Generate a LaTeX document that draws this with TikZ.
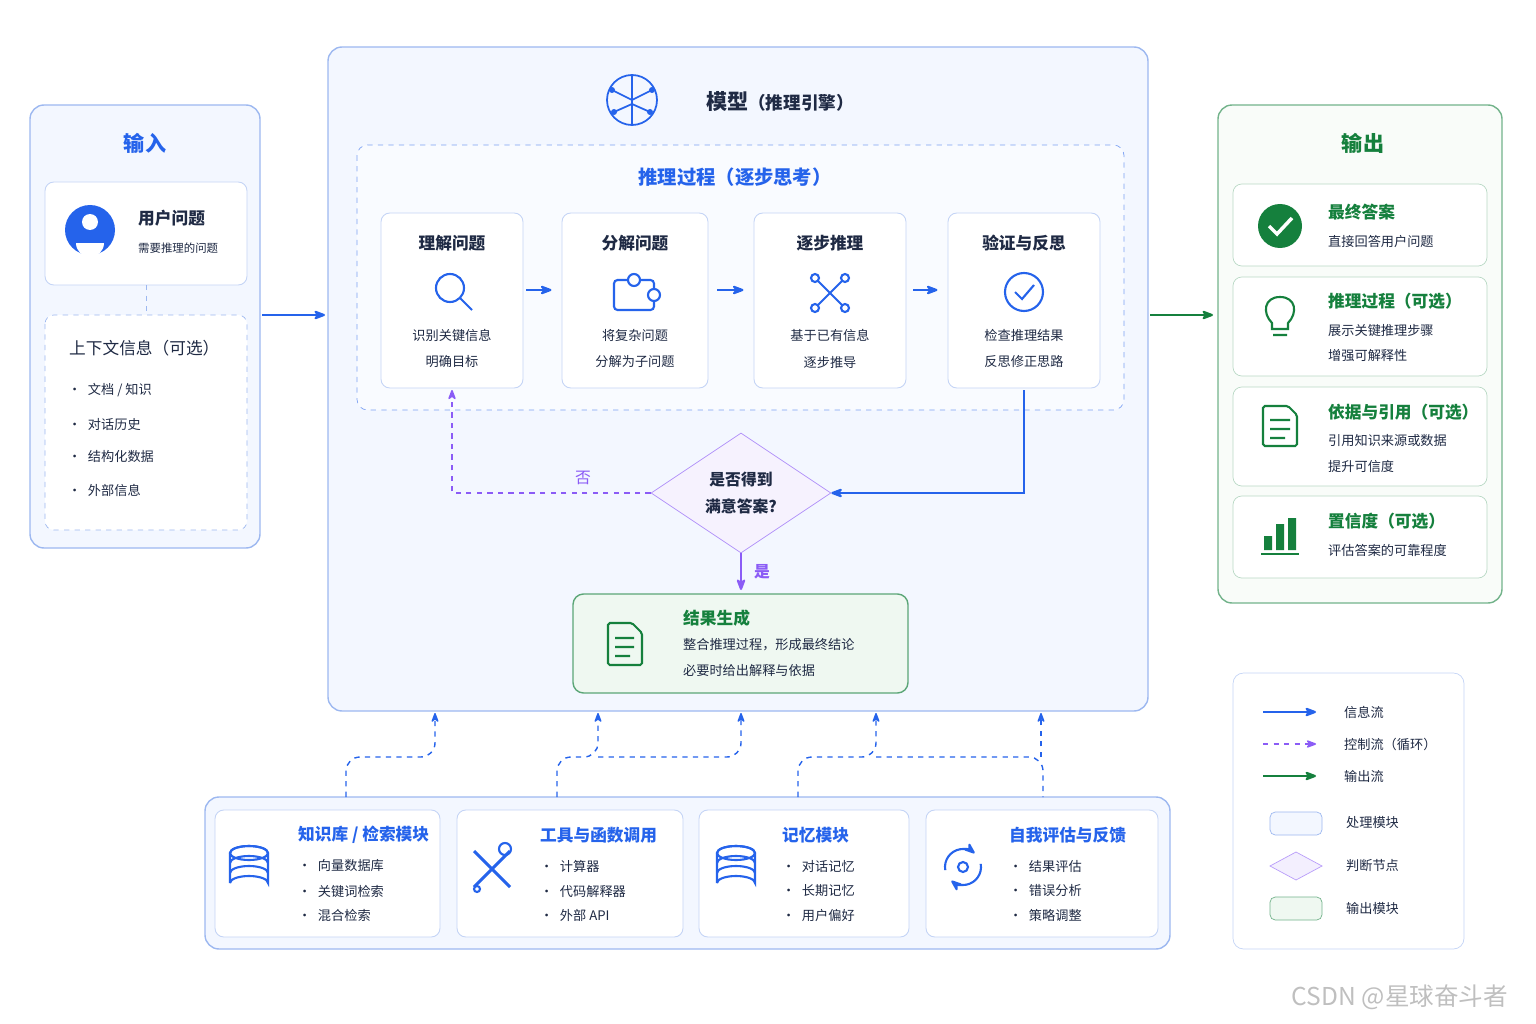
\documentclass[tikz,border=0pt]{standalone}
\usepackage{fontspec}
\setmainfont{Noto Sans CJK SC}
\usetikzlibrary{arrows.meta,shapes.geometric}
\definecolor{blu}{HTML}{2563EB}
\definecolor{navy}{HTML}{1F2A44}
\definecolor{grn}{HTML}{15803D}
\definecolor{pur}{HTML}{8B5CF6}
\definecolor{lbl}{HTML}{F3F7FF}
\definecolor{edg}{HTML}{9DB8F0}
\definecolor{lgr}{HTML}{EFF8F1}
\begin{document}
\begin{tikzpicture}
        [x=0.02cm,y=-0.02cm,>={Stealth[round]},
         panel/.style={draw=edg,rounded corners=8pt,fill=lbl,line width=0.8pt},
         card/.style={draw=edg!60,rounded corners=5pt,fill=white,line width=0.5pt},
         ttl/.style={font=\fontsize{12}{14}\selectfont\bfseries,text=blu},
         hd/.style={font=\fontsize{9.5}{11}\selectfont\bfseries,text=navy},
         tx/.style={font=\fontsize{7.5}{9}\selectfont,text=navy},
         flow/.style={->,blu,line width=1.2pt},
         ctrl/.style={->,pur,dashed,line width=0.9pt},
         sup/.style={->,blu,dashed,line width=0.8pt},
         ico/.style={blu,line width=1.2pt}]
      \useasboundingbox (0,0) rectangle (1536,1024);
      % input
      \draw[panel] (30,105) rectangle (260,548);
      \node[ttl] (inT) at (145,143) {输入};
      \draw[card] (45,182) rectangle (247,285);
      \fill[blu] (90,230) circle (25);
      \fill[white] (90,222) circle (8);
      \fill[white] (76,243) arc (180:0:14) -- cycle;
      \node[hd,anchor=west] (uq) at (132,218) {用户问题};
      \node[tx,anchor=west] (uqs) at (132,248) {\fontsize{6.5}{8}\selectfont 需要推理的问题};
      \draw[edg,dashed] (146,285) -- (146,315);
      \draw[edg,dashed,rounded corners=5pt,fill=white] (45,315) rectangle (247,530);
      \node[font=\fontsize{9.5}{11}\selectfont,text=navy,anchor=west] (ctx) at (63,348) {上下文信息（可选）};
      \foreach \y/\t in {390/{文档 / 知识},424/对话历史,457/结构化数据,490/外部信息}
        \node[tx,anchor=west] at (62,\y) {•\enspace\t};
      \coordinate (inR) at (262,315);
      \coordinate (mdL) at (325,315);
      \draw[flow] (inR) -- (mdL);
      % model
      \draw[panel] (328,47) rectangle (1148,711);
      \begin{scope}[ico,line width=1pt]
        \draw (632,100) circle (25);
        \draw (632,76) -- (632,124) (612,90) -- (632,100) -- (652,90) (614,112) -- (632,104) -- (650,112);
        \foreach \p in {(612,90),(652,90),(614,112),(650,112)} \fill[blu] \p circle (3);
      \end{scope}
      \node[font=\fontsize{12}{14}\selectfont\bfseries,text=navy] (mT) at (780,101) {模型\fontsize{10}{12}\selectfont（推理引擎）};
      \draw[blu!60,dashed,rounded corners=6pt,fill=white!50!lbl] (357,145) rectangle (1124,410);
      \node[ttl,font=\fontsize{11}{13}\selectfont\bfseries] (rT) at (735,177) {推理过程（逐步思考）};
      \foreach \n/\a/\b/\t/\l/\m in {s1/381/523/理解问题/识别关键信息/明确目标,
          s2/562/708/分解问题/将复杂问题/分解为子问题,
          s3/754/906/逐步推理/基于已有信息/逐步推导,
          s4/948/1100/验证与反思/检查推理结果/反思修正思路} {
        \draw[card] (\a,213) rectangle (\b,388);
        \node[hd] (\n) at ({(\a+\b)/2},243) {\t};
        \node[tx] at ({(\a+\b)/2},335) {\l};
        \node[tx] at ({(\a+\b)/2},362) {\m};
        \coordinate (\n L) at (\a,290);
        \coordinate (\n R) at (\b,290);
        \coordinate (\n B) at ({(\a+\b)/2},390);
      }
      % step icons
      \draw[ico] (450,288) circle (14) (460,298) -- (472,310);
      \draw[ico,rounded corners=2pt] (614,280) rectangle (654,310);
      \draw[ico,fill=white] (634,280) circle (6) (654,295) circle (6);
      \foreach \p in {(815,278),(845,278),(815,308),(845,308)} \draw[ico] \p circle (4);
      \draw[ico] (818,281) -- (842,305) (842,281) -- (818,305);
      \draw[ico] (1024,292) circle (19);
      \draw[ico] (1015,292) -- (1022,299) -- (1034,285);
      \draw[flow] (s1R) ++(3,0) -- ([xshift=-6]s2L);
      \draw[flow] (s2R) ++(9,0) -- ([xshift=-6]s3L);
      \draw[flow] (s3R) ++(7,0) -- ([xshift=-6]s4L);
      % decision
      \node[diamond,draw=pur!70,fill=pur!8,minimum width=180*0.02cm,minimum height=120*0.02cm,inner sep=0,
            aspect=1.5,font=\fontsize{9}{15}\selectfont\bfseries,text=navy,align=center] (dec) at (741,493) {是否得到\\满意答案?};
      \draw[flow] (s4B) |- (dec.east);
      \draw[ctrl] (dec.west) -| (s1B);
      \node[font=\fontsize{9}{11}\selectfont,text=pur] (no) at (583,478) {否};
      \draw[->,pur,line width=1.2pt] (dec.south) -- (741,590);
      \node[font=\fontsize{9}{11}\selectfont\bfseries,text=pur] (yes) at (762,572) {是};
      % result
      \draw[draw=grn!70,fill=lgr,rounded corners=6pt,line width=0.8pt] (573,594) rectangle (908,693);
      \draw[grn,line width=1.2pt,rounded corners=1pt] (608,623) -- (632,623) -- (642,633) -- (642,665) -- (608,665) -- cycle
        (615,638) -- (634,638) (615,647) -- (634,647) (615,656) -- (630,656);
      \node[font=\fontsize{9.5}{11}\selectfont\bfseries,text=grn,anchor=west] (res) at (677,618) {结果生成};
      \node[tx,anchor=west] at (677,645) {整合推理过程，形成最终结论};
      \node[tx,anchor=west] at (677,671) {必要时给出解释与依据};
      % output
      \draw[->,grn,line width=1.2pt] (1150,315) -- (1213,315);
      \draw[draw=grn!60,fill=lgr!40,rounded corners=8pt,line width=0.8pt] (1218,105) rectangle (1502,603);
      \node[ttl,text=grn] (outT) at (1363,143) {输出};
      \foreach \a/\b in {184/266,277/376,387/486,496/578}
        \draw[draw=grn!30,fill=white,rounded corners=5pt] (1233,\a) rectangle (1487,\b);
      \fill[grn] (1280,226) circle (22);
      \draw[white,line width=2pt] (1269,226) -- (1277,234) -- (1292,218);
      \node[hd,text=grn,anchor=west] (o1) at (1322,212) {最终答案};
      \node[tx,anchor=west] at (1322,241) {直接回答用户问题};
      \draw[grn,line width=1.2pt] (1272,323) .. controls (1262,313) and (1264,297) .. (1280,297)
        .. controls (1296,297) and (1298,313) .. (1288,323) -- (1288,329) -- (1272,329) -- cycle
        (1273,335) -- (1287,335);
      \node[hd,text=grn,anchor=west] (o2) at (1322,301) {推理过程（可选）};
      \node[tx,anchor=west] at (1322,331) {展示关键推理步骤};
      \node[tx,anchor=west] at (1322,356) {增强可解释性};
      \draw[grn,line width=1.2pt,rounded corners=1pt] (1263,406) -- (1288,406) -- (1297,415) -- (1297,446) -- (1263,446) -- cycle
        (1270,420) -- (1290,420) (1270,429) -- (1290,429) (1270,438) -- (1285,438);
      \node[hd,text=grn,anchor=west] (o3) at (1322,412) {依据与引用（可选）};
      \node[tx,anchor=west] at (1322,441) {引用知识来源或数据};
      \node[tx,anchor=west] at (1322,466) {提升可信度};
      \fill[grn] (1264,536) rectangle (1272,550) (1276,524) rectangle (1284,550) (1288,518) rectangle (1296,550);
      \draw[grn,line width=1.5pt] (1261,554) -- (1299,554);
      \node[hd,text=grn,anchor=west] (o4) at (1322,521) {置信度（可选）};
      \node[tx,anchor=west] at (1322,550) {评估答案的可靠程度};
      % support modules
      \draw[panel] (205,797) rectangle (1170,949);
      \draw[sup,rounded corners=8pt] (346,797) |- (435,757) -- (435,713);
      \draw[sup,rounded corners=8pt] (557,797) |- (598,757) -- (598,713);
      \draw[sup,rounded corners=8pt] (598,757) -| (741,713);
      \draw[sup,rounded corners=8pt] (798,797) |- (876,757) -- (876,713);
      \draw[blu,dashed,line width=0.8pt,rounded corners=8pt] (876,757) -| (1043,797);
      \draw[sup] (1041,757) -- (1041,713);
      \foreach \a/\b/\n/\t/\p/\q/\r in {215/440/k1/{知识库 / 检索模块}/向量数据库/关键词检索/混合检索,
          457/683/k2/工具与函数调用/计算器/代码解释器/外部 API,
          699/909/k3/记忆模块/对话记忆/长期记忆/用户偏好,
          926/1158/k4/自我评估与反馈/结果评估/错误分析/策略调整} {
        \draw[card] (\a,810) rectangle (\b,937);
        \node[hd,text=blu,anchor=west] (\n) at (\a+77,835) {\t};
        \node[tx,anchor=west] at (\a+77,866) {•\enspace\p};
        \node[tx,anchor=west] at (\a+77,891) {•\enspace\q};
        \node[tx,anchor=west] at (\a+77,915) {•\enspace\r};
      }
      \foreach \x in {249,736} {
        \draw[ico,fill=white] (\x-19,883) -- (\x-19,853) arc (180:360:19 and 7) -- (\x+19,883) arc (0:-180:19 and 7);
        \draw[ico] (\x,853) ellipse (19 and 7);
        \draw[ico] (\x-19,863) arc (180:360:19 and 7) (\x-19,873) arc (180:360:19 and 7);
      }
      \draw[ico,line width=1.8pt] (474,851) -- (510,887) (510,851) -- (474,887);
      \draw[ico] (505,849) circle (6) (477,889) circle (3);
      \draw[ico,->] (963,867) ++(170:18) arc (170:310:18);
      \draw[ico,->] (963,867) ++(-10:18) arc (-10:130:18);
      \draw[ico] (963,867) circle (5);
      % legend
      \draw[draw=edg!60,fill=white,rounded corners=6pt] (1233,673) rectangle (1464,949);
      \foreach \y/\s/\c/\t in {712/flow/blu/信息流,744/ctrl/pur/控制流（循环）,776/flow/grn/输出流} {
        \coordinate (lg\y) at (1263,\y);
        \draw[\s,draw=\c] (lg\y) -- ++(53,0);
        \node[tx,anchor=west] at (1338,\y) {\t};
      }
      \draw[draw=edg,fill=lbl,rounded corners=3pt] (1270,812) rectangle (1322,835);
      \node[tx,anchor=west] at (1340,823) {处理模块};
      \draw[draw=pur!60,fill=pur!10] (1270,866) -- (1296,852) -- (1322,866) -- (1296,880) -- cycle;
      \node[tx,anchor=west] at (1340,866) {判断节点};
      \draw[draw=grn!60,fill=lgr,rounded corners=3pt] (1270,897) rectangle (1322,920);
      \node[tx,anchor=west] at (1340,908) {输出模块};
      \node[font=\fontsize{14}{16}\selectfont,text=black!25] (wm) at (1400,997) {CSDN @星球奋斗者};
\end{tikzpicture}
\end{document}
